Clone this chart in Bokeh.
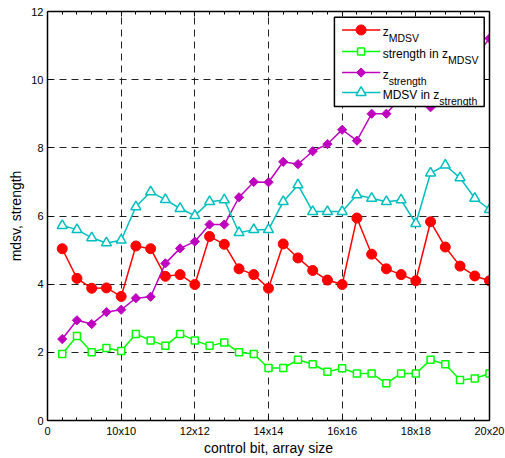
from math import pi
from bokeh.plotting import figure
from bokeh.models import FixedTicker, LinearAxis, Range1d
from bokeh.embed import file_html
from bokeh.resources import INLINE
from bokeh.core.properties import value

# ---------------- data ----------------
idx = list(range(1, 31))
x_tick_pos = [0, 5, 10, 15, 20, 25, 30]
x_tick_labels = ["0", "10x10", "12x12", "14x14", "16x16", "18x18", "20x20"]
y_tick_pos = [0, 2, 4, 6, 8, 10, 12]

z_mdsv = [5.04, 4.17, 3.88, 3.89, 3.64, 5.12, 5.04, 4.23, 4.28, 3.99,
          5.40, 5.17, 4.45, 4.28, 3.88, 5.18, 4.77, 4.40, 4.12, 3.99,
          5.94, 4.88, 4.45, 4.28, 4.10, 5.83, 5.09, 4.53, 4.24, 4.10]
strength_in_z_mdsv = [1.95, 2.48, 2.00, 2.13, 2.04, 2.54, 2.35, 2.19, 2.54, 2.35,
                      2.19, 2.29, 2.00, 1.95, 1.54, 1.54, 1.78, 1.65, 1.43, 1.53,
                      1.38, 1.38, 1.09, 1.38, 1.38, 1.78, 1.65, 1.19, 1.23, 1.38]
z_strength = [2.39, 2.94, 2.83, 3.18, 3.25, 3.59, 3.63, 4.61, 5.05, 5.25,
              5.75, 5.75, 6.55, 7.00, 6.99, 7.59, 7.52, 7.90, 8.11, 8.53,
              8.21, 9.00, 9.00, 9.50, 9.80, 9.19, 9.65, 10.15, 10.65, 11.21]
mdsv_in_z_strength = [5.72, 5.60, 5.36, 5.21, 5.29, 6.27, 6.71, 6.48, 6.22, 6.01,
                      6.42, 6.47, 5.51, 5.60, 5.60, 6.42, 6.91, 6.13, 6.13, 6.13,
                      6.62, 6.52, 6.42, 6.47, 5.78, 7.26, 7.49, 7.12, 6.52, 6.19]

RED = "#FF0000"
GREEN = "#00FF00"
MAG = "#BF00BF"
CYAN = "#00BFBF"
FONT = "Liberation Sans"

p = figure(width=505, height=458, output_backend="svg", toolbar_location=None,
           x_range=Range1d(0, 30), y_range=Range1d(0, 12),
           min_border_left=47, min_border_right=16, min_border_top=11,
           min_border_bottom=36,
           x_axis_label="control bit, array size", y_axis_label="mdsv, strength")
p.outline_line_color = None
p.background_fill_color = "white"

xt = FixedTicker(ticks=x_tick_pos, minor_ticks=list(range(31)))
yt = FixedTicker(ticks=y_tick_pos, minor_ticks=[])


def style_axis(ax, minor=True):
    ax.axis_line_color = "black"
    ax.axis_line_width = 1.5
    ax.major_tick_in = 5
    ax.major_tick_out = 0
    ax.minor_tick_in = 3 if minor else 0
    ax.minor_tick_out = 0
    ax.major_tick_line_color = "black"
    ax.minor_tick_line_color = "black" if minor else None
    ax.major_label_text_font = FONT
    ax.major_label_text_font_size = "11px"
    ax.major_label_text_color = "black"
    ax.axis_label_text_font = FONT
    ax.axis_label_text_font_size = "14px"
    ax.axis_label_text_font_style = "normal"
    ax.axis_label_text_color = "black"


xa = p.xaxis[0]
xa.ticker = xt
xa.major_label_overrides = {k: v for k, v in zip(x_tick_pos, x_tick_labels)}
style_axis(xa)
xa.major_label_standoff = 4
xa.axis_label_standoff = 0

ya = p.yaxis[0]
ya.ticker = yt
style_axis(ya, minor=False)
ya.major_label_standoff = 4
ya.axis_label_standoff = 4

top = LinearAxis(ticker=xt, major_label_overrides={k: "" for k in x_tick_pos})
style_axis(top)
top.major_label_text_font_size = "0px"
top.major_label_standoff = 0
p.add_layout(top, "above")

right = LinearAxis(ticker=yt, major_label_overrides={k: "" for k in y_tick_pos})
style_axis(right, minor=False)
right.major_label_text_font_size = "0px"
right.major_label_standoff = 0
p.add_layout(right, "right")

for g, t in ((p.xgrid[0], xt), (p.ygrid[0], yt)):
    g.ticker = t
    g.grid_line_color = "#222222"
    g.grid_line_dash = "7 5"
    g.grid_line_width = 1

# ---------------- series ----------------
p.line(idx, z_mdsv, line_color=RED, line_width=1.5)
p.scatter(idx, z_mdsv, marker="circle", size=10, fill_color=RED, line_color=RED)

p.line(idx, strength_in_z_mdsv, line_color=GREEN, line_width=1.5)
p.scatter(idx, strength_in_z_mdsv, marker="square", size=7, fill_color="white",
          line_color=GREEN, line_width=1.5)

p.line(idx, z_strength, line_color=MAG, line_width=1.5)
p.scatter(idx, z_strength, marker="square", size=6.5, angle=pi / 4,
          fill_color=MAG, line_color=MAG)

p.line(idx, mdsv_in_z_strength, line_color=CYAN, line_width=1.5)
p.scatter(idx, mdsv_in_z_strength, marker="triangle", size=10, fill_color="white",
          line_color=CYAN, line_width=1.5)

# ---------------- legend (drawn in plot coordinates) ----------------
def dx(px):
    return (px - 46.7) / 14.753


def dy(py):
    return (421.5 - py) / 34.167


p.quad(left=[dx(334)], right=[dx(484)], top=[dy(17.3)], bottom=[dy(106.7)],
       fill_color="white", line_color="black", line_width=1.5)

rows = [30, 51.7, 72.7, 92.7]
colors = [RED, GREEN, MAG, CYAN]
main_txt = ["z", "strength in z", "z", "MDSV in z"]
sub_txt = ["MDSV", "MDSV", "strength", "strength"]
main_w = [6, 65.4, 6, 56.7]
for r, c, mt, st, w, k in zip(rows, colors, main_txt, sub_txt, main_w, range(4)):
    p.line([dx(341.7), dx(380)], [dy(r), dy(r)], line_color=c, line_width=1.5)
    if k == 0:
        p.scatter([dx(360.7)], [dy(r)], marker="circle", size=10, fill_color=c, line_color=c)
    elif k == 1:
        p.scatter([dx(360.7)], [dy(r)], marker="square", size=7, fill_color="white",
                  line_color=c, line_width=1.5)
    elif k == 2:
        p.scatter([dx(360.7)], [dy(r)], marker="square", size=6.5, angle=pi / 4,
                  fill_color=c, line_color=c)
    else:
        p.scatter([dx(360.7)], [dy(r)], marker="triangle", size=10, fill_color="white",
                  line_color=c, line_width=1.5)
    p.text([dx(382.3)], [dy(r)], text=[mt], text_font=value(FONT), text_font_size="12px",
           text_baseline="alphabetic", text_align="left", y_offset=2, text_color="black")
    p.text([dx(382.3)], [dy(r)], text=[st], text_font=value(FONT), text_font_size="10.5px",
           text_baseline="alphabetic", text_align="left", x_offset=w, y_offset=8,
           text_color="black")

open("out.html", "w").write(file_html(p, INLINE))
